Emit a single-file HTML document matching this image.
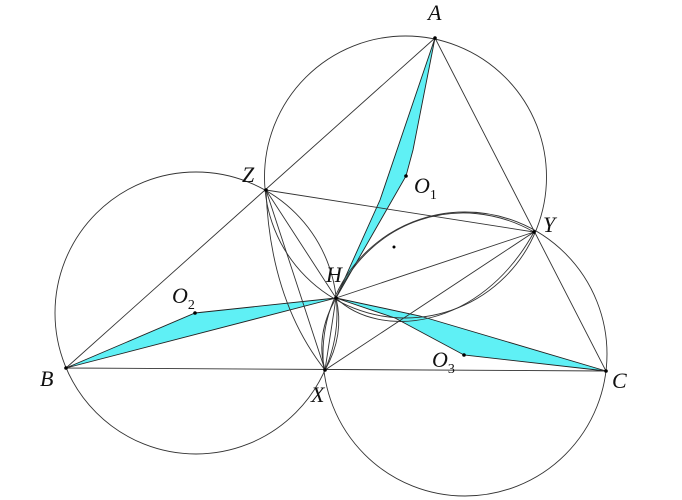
<!DOCTYPE html>
<html><head><meta charset="utf-8"><style>
html,body{margin:0;padding:0;background:#fff}
svg{display:block}
text{font-family:"Liberation Serif",serif;font-style:italic;font-size:22px;fill:#111}
.s{font-size:14px;font-style:normal}
</style></head><body>
<svg width="682" height="500" viewBox="0 0 682 500">
<g fill="#5ff0f5" stroke="#222" stroke-width="0.9">
<path d="M435,38 L413,150 L406,176 L336,298 L380,200 Z"/>
<path d="M66,368 L195,313 L336,298 Z"/>
<path d="M336,298 L395,318 L464,355 L606,371 L420,316 Z"/>
</g>
<g fill="none" stroke="#333" stroke-width="0.9">
<circle cx="405.5" cy="177" r="141"/>
<circle cx="196" cy="313" r="141"/>
<circle cx="465" cy="354" r="142"/>
<path d="M66,368 L435,38 L606,371 Z"/>
<path d="M266,190 L534,232 L325,370 Z"/>
<path d="M266,190 L336,298 L534,232"/>
<path d="M336,298 L325,370"/>
<path d="M336,298 C370,220 460,190 534,232"/>
<path d="M336,298 C380,340 480,330 534,232"/>
<path d="M266,190 Q270,300 325,370"/>
<path d="M336,298 Q315,335 325,370"/>
<path d="M336,298 Q345,335 325,370"/>
</g>
<g fill="#000">
<circle cx="435" cy="38" r="1.8"/><circle cx="66" cy="368" r="1.8"/><circle cx="606" cy="371" r="1.8"/>
<circle cx="266" cy="190" r="1.8"/><circle cx="534" cy="232" r="1.8"/><circle cx="325" cy="370" r="1.8"/>
<circle cx="336" cy="298" r="1.8"/><circle cx="406" cy="176" r="1.8"/><circle cx="195" cy="313" r="1.8"/>
<circle cx="464" cy="355" r="1.8"/><circle cx="394" cy="247" r="1.5"/>
</g>
<text x="428" y="20">A</text>
<text x="242" y="182">Z</text>
<text x="543" y="232">Y</text>
<text x="326" y="282">H</text>
<text x="40" y="386">B</text>
<text x="311" y="402">X</text>
<text x="612" y="388">C</text>
<text x="414" y="193">O<tspan class="s" dy="6">1</tspan></text>
<text x="172" y="303">O<tspan class="s" dy="6">2</tspan></text>
<text x="432" y="367">O<tspan class="s" dy="6">3</tspan></text>
</svg>
</body></html>
